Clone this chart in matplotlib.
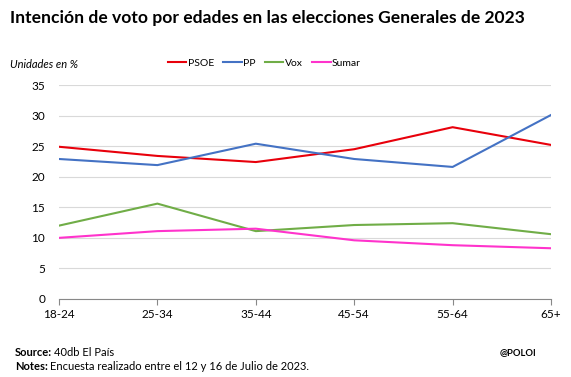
import matplotlib.pyplot as plt

plt.rcParams['font.family'] = ['Lato', 'DejaVu Sans']

edades = ["18-24", "25-34", "35-44", "45-54", "55-64", "65+"]
psoe = [24.9, 23.4, 22.4, 24.5, 28.1, 25.2]
pp = [22.9, 21.9, 25.4, 22.9, 21.6, 30.1]
vox = [12.0, 15.6, 11.1, 12.1, 12.4, 10.6]
sumar = [10.0, 11.1, 11.5, 9.6, 8.8, 8.3]

series = [("PSOE", psoe, "#e8000b"), ("PP", pp, "#4472c4"),
          ("Vox", vox, "#70ad47"), ("Sumar", sumar, "#ff33cc")]

fig = plt.figure(figsize=(5.71, 3.77), dpi=100)
ax = fig.add_axes([0.1033, 0.2069, 0.8617, 0.5676])

x = range(len(edades))
for nombre, vals, color in series:
    ax.plot(x, vals, color=color, linewidth=1.5, label=nombre)

ax.set_xlim(0, len(edades) - 1)
ax.set_ylim(0, 35)
ax.set_yticks(range(0, 36, 5))
ax.set_xticks(list(x))
ax.set_xticklabels(edades)
ax.grid(axis="y", color="#d9d9d9", linewidth=0.8)
ax.set_axisbelow(True)
for s in ["top", "right", "left"]:
    ax.spines[s].set_visible(False)
ax.spines["bottom"].set_color("#888888")
ax.tick_params(axis="y", length=0, labelsize=8.5, pad=10)
ax.tick_params(axis="x", length=4, color="#888888", labelsize=8.5, direction="out")

fig.text(0.0175, 0.952, "Intención de voto por edades en las elecciones Generales de 2023",
         fontsize=12.6, fontweight="bold", va="center", ha="left")
fig.text(0.0175, 0.83, "Unidades en %", fontsize=8, style="italic", va="center")

fig.legend(loc="center", bbox_to_anchor=(0.463, 0.832), ncol=4, frameon=False,
           fontsize=7.5, handlelength=1.8, handletextpad=0.15, columnspacing=0.85)


def texto_mixto(xf, yf, negrita, resto, size=8):
    t = fig.text(xf, yf, negrita, fontsize=size, fontweight="bold", va="center")
    r = fig.canvas.get_renderer()
    bb = t.get_window_extent(renderer=r)
    fig.text((bb.x1 + 2) / fig.bbox.width, yf, resto, fontsize=size, va="center")


texto_mixto(0.026, 0.066, "Source:", "40db El País")
texto_mixto(0.026, 0.029, "Notes:", "Encuesta realizado entre el 12 y 16 de Julio de 2023.")
fig.text(0.875, 0.066, "@POLOI", fontsize=6.8, fontweight="bold", va="center")

fig.savefig("out.png", dpi=100)
